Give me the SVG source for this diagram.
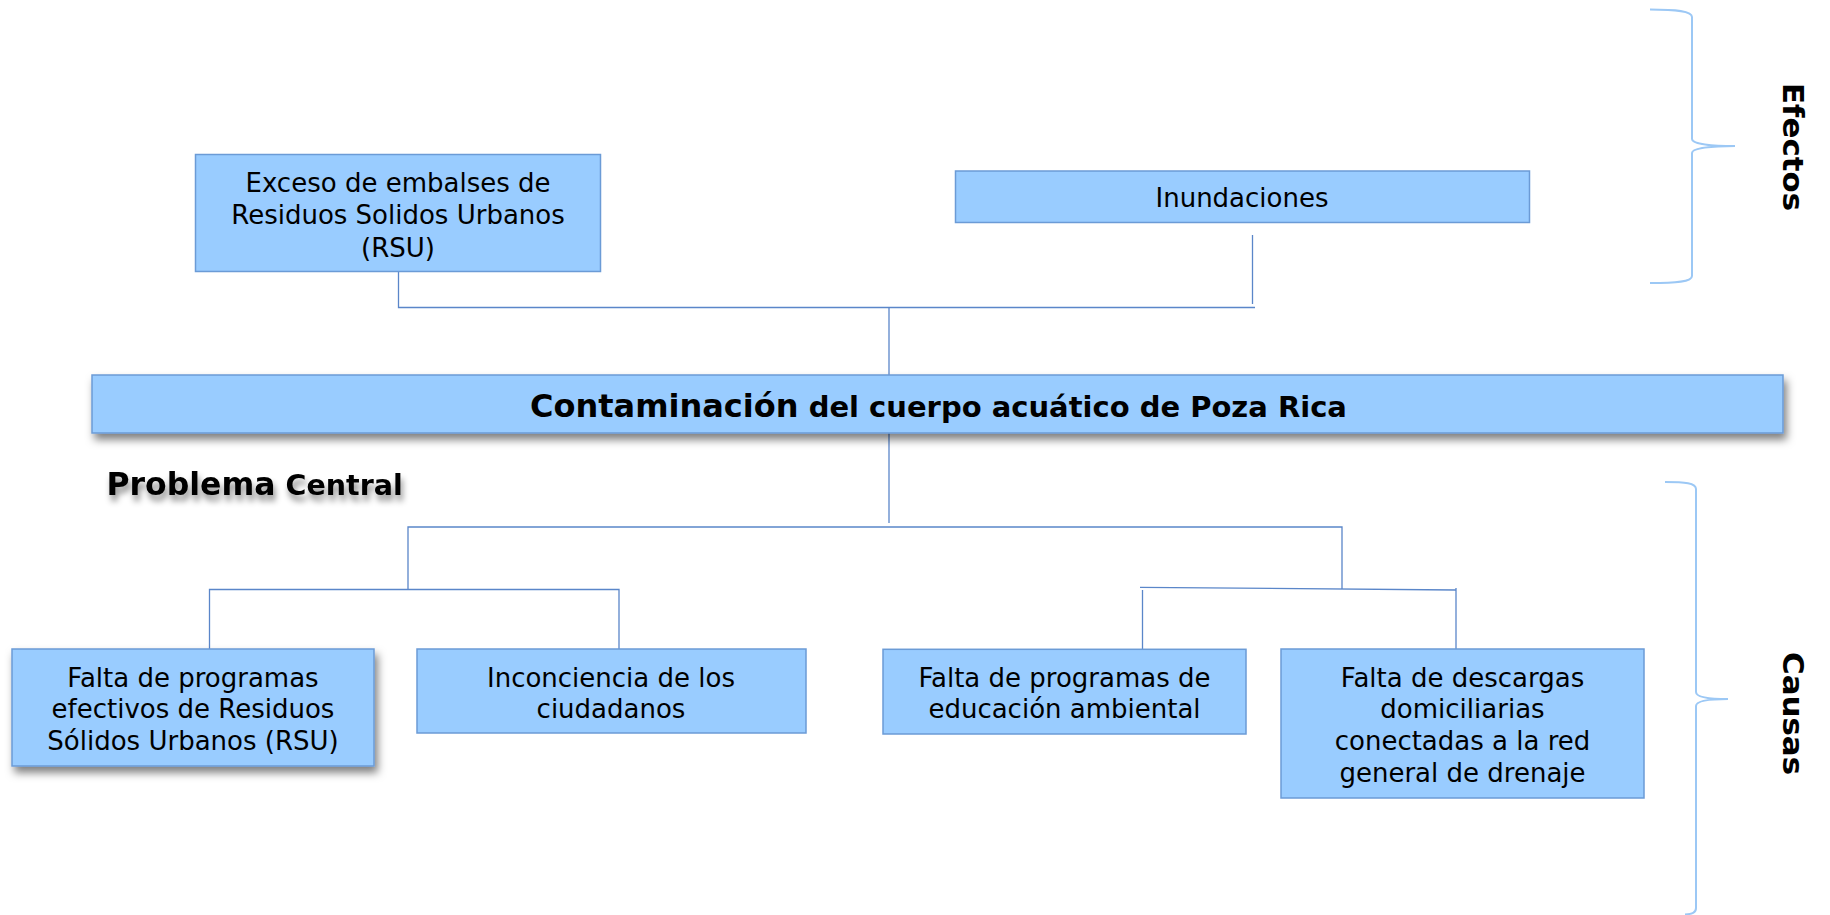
<svg xmlns="http://www.w3.org/2000/svg" width="1830" height="915" viewBox="0 0 1830 915">
<defs>
<filter id="boxShadow" x="-5%" y="-30%" width="110%" height="180%">
<feDropShadow dx="3" dy="6" stdDeviation="4" flood-color="#000" flood-opacity="0.5"/>
</filter>
<filter id="txtShadow" x="-10%" y="-30%" width="120%" height="190%">
<feDropShadow dx="2" dy="6" stdDeviation="3" flood-color="#000" flood-opacity="0.45"/>
</filter>
<style>
.box{fill:#99CCFF;stroke:#6B9BD6;stroke-width:1.5}
.t{font-family:"DejaVu Sans","Verdana",sans-serif;font-size:26px;fill:#000;text-anchor:middle}
.b{font-family:"DejaVu Sans","Verdana",sans-serif;font-weight:bold;fill:#000}
.c{fill:none;stroke:#5A86C9;stroke-width:1.3}
.br{fill:none;stroke:#9CC8F5;stroke-width:2}
</style>
</defs>
<rect width="1830" height="915" fill="#fff"/>

<g id="connectors">
<path class="c" d="M398.5,271 V307.5 H1255"/>
<path class="c" d="M1252.5,235 V304"/>
<path class="c" d="M889,307.5 V375"/>
<path class="c" d="M889,433 V523"/>
<path class="c" d="M408,590 V527 H1342 V589"/>
<path class="c" d="M209.5,653 V589.5 H619 V656"/>
<path class="c" d="M1140,587.3 L1456,590"/>
<path class="c" d="M1142.5,590 V659"/>
<path class="c" d="M1456,588 V656"/>
</g>

<g id="brace-efectos">
<path class="br" d="M1650,9.5 C1676,9.5 1692,11 1692,17 L1692,139 C1692,144 1712,146 1735,146 C1712,146 1692,148 1692,153 L1692,276 C1692,282 1676,283 1650,283"/>
<text class="b" font-size="28" textLength="128" lengthAdjust="spacingAndGlyphs" transform="translate(1783,83) rotate(90)">Efectos</text>
</g>

<g id="brace-causas">
<path class="br" d="M1665,482 C1685,482 1696,483 1696,489 L1696,692 C1696,697 1710,699 1728,699 C1710,699 1696,701 1696,706 L1696,908 C1696,913 1692,914 1685,914.5"/>
<text class="b" font-size="28" textLength="123" lengthAdjust="spacingAndGlyphs" transform="translate(1783,652) rotate(90)">Causas</text>
</g>

<g id="node-exceso">
<rect class="box" x="195.5" y="154.5" width="405" height="117"/>
<text class="t" x="398" y="191.7">Exceso de embalses de</text>
<text class="t" x="398" y="224.2">Residuos Solidos Urbanos</text>
<text class="t" x="398" y="256.7">(RSU)</text>
</g>

<g id="node-inundaciones">
<rect class="box" x="955.5" y="171" width="574" height="51.5"/>
<text class="t" x="1242" y="207.3">Inundaciones</text>
</g>

<g id="node-central">
<rect class="box" x="92" y="375" width="1691" height="58" filter="url(#boxShadow)"/>
<text class="b" x="530" y="416.7"><tspan font-size="32">Contaminación</tspan><tspan font-size="29"> del cuerpo acuático de Poza Rica</tspan></text>
</g>

<g id="label-problema">
<text class="b" x="106.5" y="495" filter="url(#txtShadow)"><tspan font-size="31.5">Problema</tspan><tspan font-size="28.5"> Central</tspan></text>
</g>

<g id="node-falta-rsu">
<rect class="box" x="12" y="649" width="362" height="117" filter="url(#boxShadow)"/>
<text class="t" x="193" y="686.7">Falta de programas</text>
<text class="t" x="193" y="718.3">efectivos de Residuos</text>
<text class="t" x="193" y="750.3">Sólidos Urbanos (RSU)</text>
</g>

<g id="node-inconciencia">
<rect class="box" x="417" y="649" width="389" height="84"/>
<text class="t" x="611" y="686.7">Inconciencia de los</text>
<text class="t" x="611" y="718.3">ciudadanos</text>
</g>

<g id="node-educacion">
<rect class="box" x="883" y="649.3" width="363" height="84.7"/>
<text class="t" x="1064.5" y="686.7">Falta de programas de</text>
<text class="t" x="1064.5" y="718.3">educación ambiental</text>
</g>

<g id="node-descargas">
<rect class="box" x="1281" y="649" width="363" height="149"/>
<text class="t" x="1462.5" y="686.7">Falta de descargas</text>
<text class="t" x="1462.5" y="718.3">domiciliarias</text>
<text class="t" x="1462.5" y="750">conectadas a la red</text>
<text class="t" x="1462.5" y="781.7">general de drenaje</text>
</g>
</svg>
